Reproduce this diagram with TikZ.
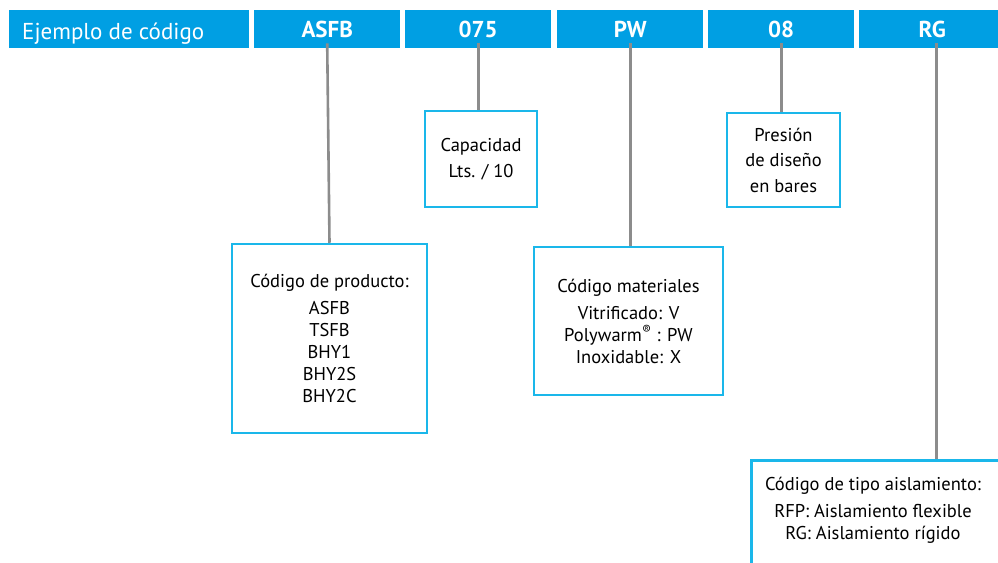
\documentclass[tikz,border=0pt]{standalone}
\usepackage{fontspec}
\setmainfont{PT Sans}
\definecolor{barblue}{HTML}{009FE3}
\definecolor{boxblue}{HTML}{1AB7EA}
\definecolor{linegray}{HTML}{8C8C8C}
\begin{document}
\begin{tikzpicture}[x=1pt,y=-1pt,
  bar/.style={fill=barblue,draw=none,minimum height=38pt,inner sep=0pt,text=white,font=\fontsize{23}{26}\selectfont\bfseries},
  infobox/.style={draw=boxblue,line width=2.5pt,fill=white,inner sep=0pt,align=center,font=\fontsize{18.5}{22}\selectfont},
  smallbox/.style={infobox,font=\fontsize{18.5}{25.5}\selectfont},
  conn/.style={draw=linegray,line width=2.6pt}]
\useasboundingbox (0,0) rectangle (998,562);
% bar
\node[bar,minimum width=240pt,anchor=north west] (title) at (9,10) {};
\node[text=white,anchor=base west,inner sep=0pt,font=\fontsize{23}{26}\selectfont] (titletext) at (22,39) {Ejemplo de código};
\node[bar,minimum width=146pt,anchor=north west] (asfb) at (254,10) {ASFB};
\node[bar,minimum width=146pt,anchor=north west] (c075) at (405,10) {075};
\node[bar,minimum width=146pt,anchor=north west] (pw) at (557,10) {PW};
\node[bar,minimum width=146pt,anchor=north west] (c08) at (708,10) {08};
\node[bar,minimum width=146pt,anchor=north west] (rg) at (859,10) {RG};
% boxes
\node[infobox,minimum width=195pt,minimum height=189pt] (prod) at (329.5,338.5)
  {Código de producto:\\[5pt]ASFB\\TSFB\\BHY1\\BHY2S\\BHY2C};
\node[smallbox,minimum width=112pt,minimum height=96pt] (cap) at (481,159)
  {Capacidad\\Lts. / 10};
\node[infobox,minimum width=189pt,minimum height=148pt] (mat) at (628.5,321)
  {Código materiales\\[5pt]Vitrificado: V\\Polywarm\textsuperscript{®} : PW\\Inoxidable: X};
\node[smallbox,minimum width=113pt,minimum height=94pt] (pres) at (783.5,160)
  {Presión\\de diseño\\en bares};
\node[infobox,minimum width=290pt,minimum height=140pt,anchor=north west] (ais) at (750,459) {};
\node[align=center,inner sep=0pt,font=\fontsize{18.5}{22}\selectfont,anchor=north] (aistext) at (873,477)
  {Código de tipo aislamiento:\\[5pt]RFP: Aislamiento flexible\\RG: Aislamiento rígido};
% connectors
\draw[conn] ([yshift=5pt]asfb.south) -- (prod.north);
\draw[conn] ([yshift=5pt]c075.south) -- (c075.south |- cap.north);
\draw[conn] ([yshift=5pt]pw.south) -- (pw.south |- mat.north);
\draw[conn] ([yshift=5pt]c08.south) -- (c08.south |- pres.north);
\draw[conn] ([xshift=4pt,yshift=5pt]rg.south) coordinate (rgs) -- (rgs |- ais.north);
\end{tikzpicture}
\end{document}
